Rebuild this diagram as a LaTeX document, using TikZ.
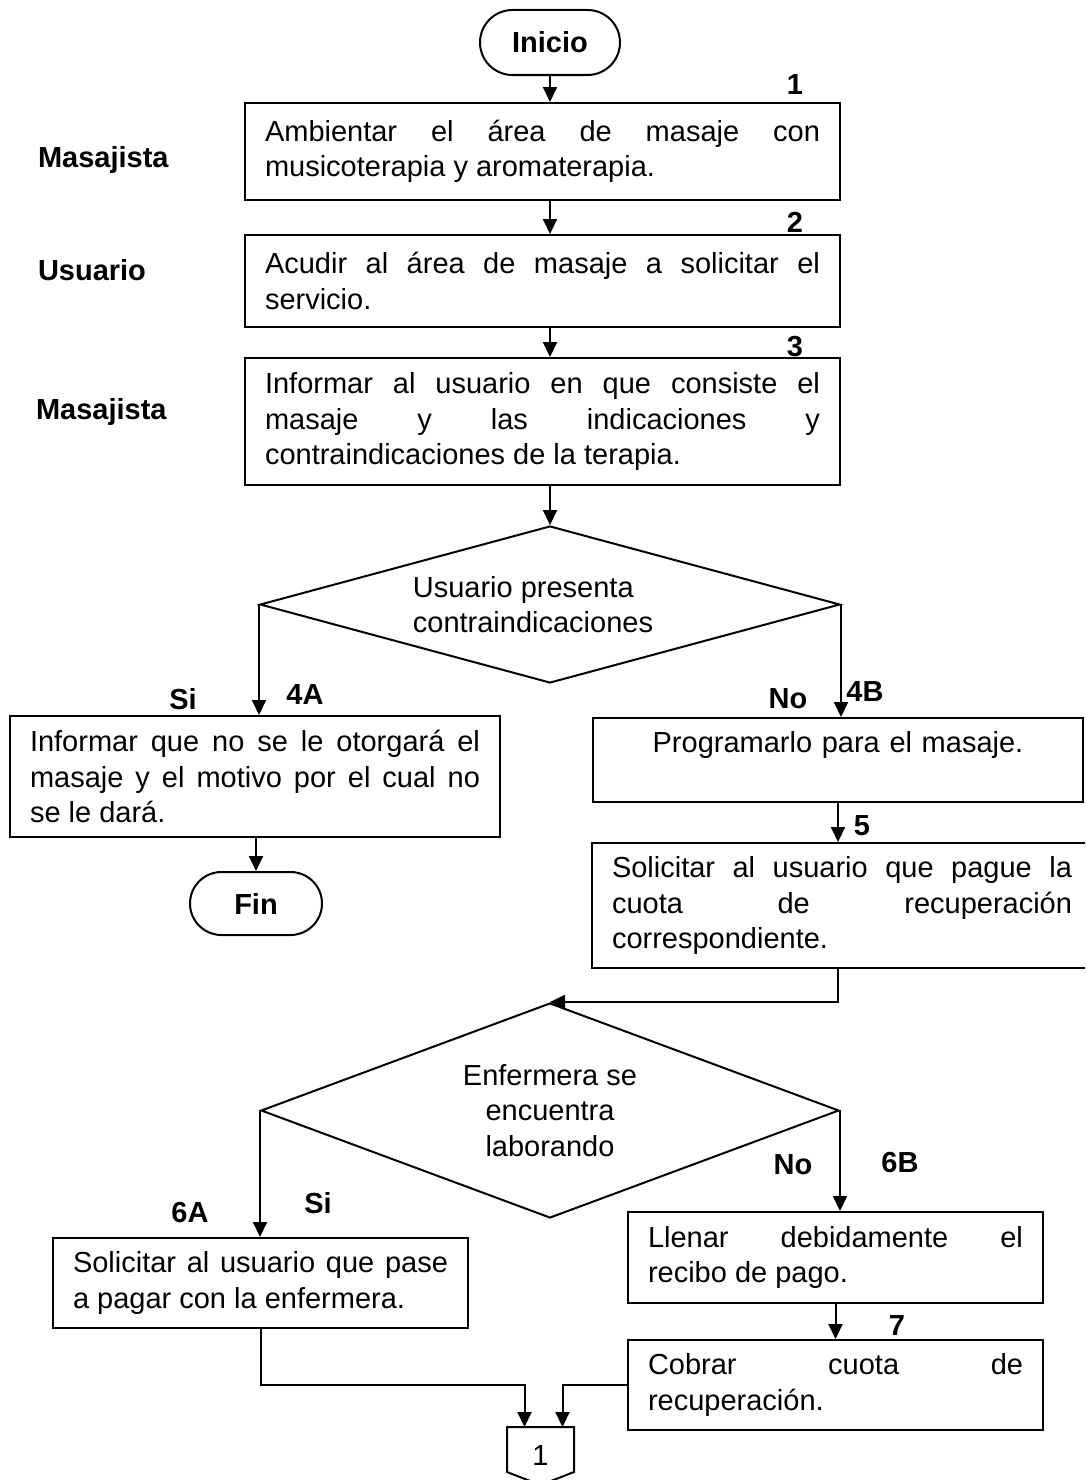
\documentclass[tikz,border=0pt]{standalone}
\usepackage{fontspec}
\setmainfont{Liberation Sans}
\usetikzlibrary{shapes.geometric,shapes.misc,arrows.meta,calc}
\tolerance=10000
\hbadness=10000
\hyphenpenalty=10000

\begin{document}
\begin{tikzpicture}[x=1pt,y=-1pt,line width=2pt,
    font=\fontsize{29}{35.5}\selectfont,
    caja/.style={draw,rectangle,inner xsep=20pt,inner ysep=0pt,align=justify},
    term/.style={draw,rounded rectangle,inner sep=0pt,font=\fontsize{29}{35.5}\selectfont\bfseries},
    decision/.style={draw,diamond,inner sep=0pt},
    etiq/.style={inner sep=0pt,font=\fontsize{29}{35.5}\selectfont\bfseries},
    flecha/.style={-{Triangle[length=15pt,width=14pt]}}]
  \useasboundingbox (0,0) rectangle (1085,1480);
  \clip (0,0) rectangle (1085,1480);

  % inicio y pasos 1 a 3
  \node[term,minimum width=140pt,minimum height=65pt] (inicio) at (550,42.5) {Inicio};
  \node[caja,text width=555pt,minimum height=97pt] (b1) at (542.5,151.5)
    {Ambientar el área de masaje con\linebreak musicoterapia y aromaterapia.};
  \node[caja,text width=555pt,minimum height=92pt] (b2) at (542.5,281)
    {Acudir al área de masaje a solicitar el\linebreak servicio.};
  \node[caja,text width=555pt,minimum height=127pt] (b3) at (542.5,421.5)
    {Informar al usuario en que consiste el\linebreak masaje y las indicaciones y\linebreak contraindicaciones de la terapia.};

  \node[etiq,anchor=west] (m1) at (37,160) {Masajista};
  \node[etiq,anchor=west] (u1) at (37,270) {Usuario};
  \node[etiq,anchor=west] (m2) at (35,412) {Masajista};
  \node[etiq] (n1) at (795,85) {1};
  \node[etiq] (n2) at (795,222) {2};
  \node[etiq] (n3) at (795,347) {3};

  \draw[flecha] (inicio.south) -- (inicio.south |- b1.north);
  \draw[flecha] (inicio.south |- b1.south) -- (inicio.south |- b2.north);
  \draw[flecha] (inicio.south |- b2.south) -- (inicio.south |- b3.north);

  % primera decision
  \node[decision,aspect=3.7,minimum width=580pt,minimum height=157pt,align=left] (d1) at (550,604.5)
    {Usuario presenta\\contraindicaciones\hspace*{34pt}};
  \draw[flecha] (inicio.south |- b3.south) -- (d1.north);

  \node[caja,text width=450pt,minimum height=121pt] (b4a) at (255,776.5)
    {Informar que no se le otorgará el\linebreak masaje y el motivo por el cual no\linebreak se le dará.};
  \node[term,minimum width=132pt,minimum height=63pt] (fin) at (256,903.5) {Fin};
  \node[caja,text width=450pt,minimum height=84pt,align=center] (b4b) at (838,760)
    {Programarlo para el masaje.\\\mbox{}};
  \node[caja,text width=460pt,minimum height=125pt] (b5) at (842,905.5)
    {Solicitar al usuario que pague la\linebreak cuota de recuperación\linebreak correspondiente.};

  \node[etiq] (si1) at (183,699) {Si};
  \node[etiq] (l4a) at (305,695) {4A};
  \node[etiq] (no1) at (788,699) {No};
  \node[etiq] (l4b) at (865,692) {4B};
  \node[etiq] (n5) at (862,826) {5};

  \draw[flecha] (d1.west) -- (d1.west |- b4a.north);
  \draw[flecha] (fin.north |- b4a.south) -- (fin.north);
  \draw[flecha] (d1.east) -- (d1.east |- b4b.north);
  \draw[flecha] (b4b.south) -- (b4b.south |- b5.north);

  % segunda decision
  \node[decision,aspect=2.7,minimum width=578pt,minimum height=215pt,align=center] (d2) at (550,1110.5)
    {Enfermera se\\encuentra\\laborando};
  \draw[flecha] (b4b.south |- b5.south) |- (d2.north);

  \node[caja,text width=375pt,minimum height=90pt] (b6a) at (260.5,1283)
    {Solicitar al usuario que pase\linebreak a pagar con la enfermera.};
  \node[caja,text width=375pt,minimum height=91pt] (b6b) at (835.5,1257.5)
    {Llenar debidamente el\linebreak recibo de pago.};
  \node[caja,text width=375pt,minimum height=90pt] (b7) at (835.5,1385)
    {Cobrar cuota de\linebreak recuperación.};

  \node[etiq] (l6a) at (190,1213) {6A};
  \node[etiq] (si2) at (318,1203) {Si};
  \node[etiq] (no2) at (793,1165) {No};
  \node[etiq] (l6b) at (900,1163) {6B};
  \node[etiq] (n7) at (897,1326) {7};

  \draw[flecha] (d2.west) -- (d2.west |- b6a.north);
  \draw[flecha] (d2.east) -- (d2.east |- b6b.north);
  \draw[flecha] (b6b.south) -- (b7.north);

  % conector de pagina
  \node[inner sep=0pt,minimum width=65pt,minimum height=56pt] (con) at (540.5,1456) {1};
  \draw (con.north west) -- (con.north east) -- ($(con.north east)+(0,45)$)
    -- (con.south) -- ($(con.north west)+(0,45)$) -- cycle;
  \draw[flecha] (b6a.south) -- (b6a.south |- b7.west) -| ($(con.north)+(-16,0)$);
  \draw[flecha] (b7.west) -| ($(con.north)+(22,0)$);
\end{tikzpicture}
\end{document}
